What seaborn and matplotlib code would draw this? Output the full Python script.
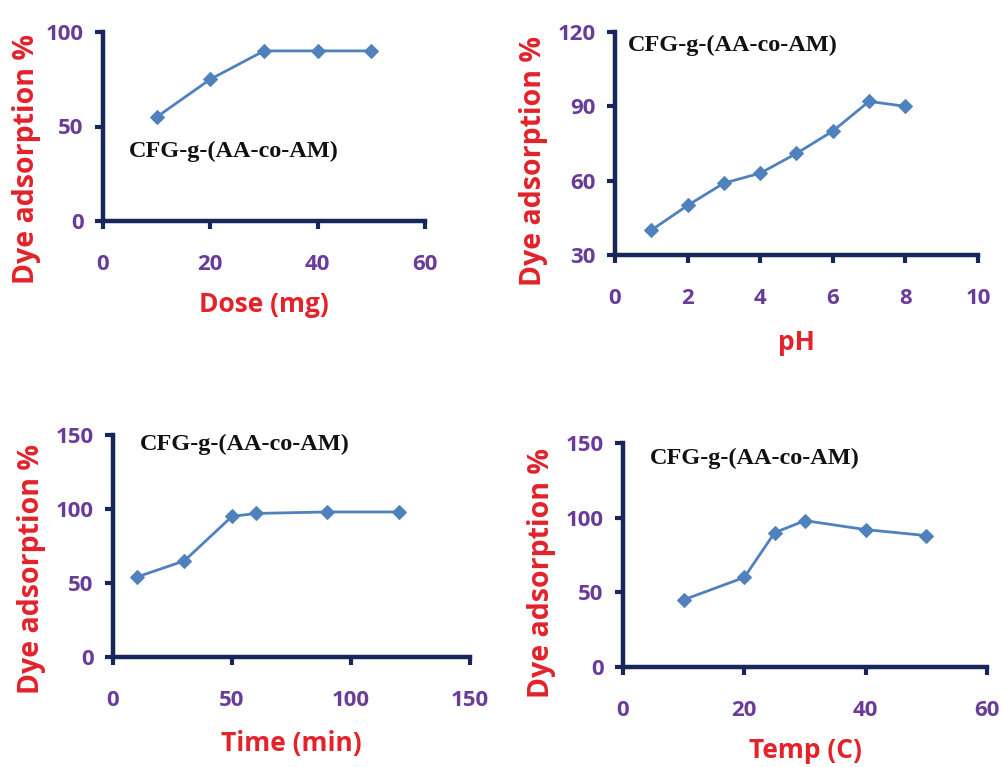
import matplotlib
matplotlib.use("Agg")
import matplotlib.pyplot as plt
import seaborn as sns
import pandas as pd

# ---- data ----
dose_mg = [10, 20, 30, 40, 50]
dose_ads = [55, 75, 90, 90, 90]

ph_vals = [1, 2, 3, 4, 5, 6, 7, 8]
ph_ads = [40, 50, 59, 63, 71, 80, 92, 90]

time_min = [10, 30, 50, 60, 90, 120]
time_ads = [54, 65, 95, 97, 98, 98]

temp_c = [10, 20, 25, 30, 40, 50]
temp_ads = [45, 60, 90, 98, 92, 88]

ylabel = "Dye adsorption %"
annot = "CFG-g-(AA-co-AM)"

sns.set_style("white")
plt.rcParams['font.family'] = ['Open Sans', 'DejaVu Sans']

W, H = 1003, 767
fig = plt.figure(figsize=(W / 100, H / 100), dpi=100)

SPINE = "#17275a"
TICKC = "#6a3c9a"
LABC = "#e3222a"
LINEC = "#4f81bd"

def px_axes(l, r, t, b):
    return fig.add_axes([l / W, 1 - b / H, (r - l) / W, (b - t) / H])

panels = [
    dict(box=(103, 425, 32, 221), x=dose_mg, y=dose_ads, xlim=(0, 60), xt=[0, 20, 40, 60],
         ylim=(0, 100), yt=[0, 50, 100], xlabel="Dose (mg)", xlab_y=305, ylab=(27, 159),
         ann=(129, 151)),
    dict(box=(615, 978, 32, 255), x=ph_vals, y=ph_ads, xlim=(0, 10), xt=[0, 2, 4, 6, 8, 10],
         ylim=(30, 120), yt=[30, 60, 90, 120], xlabel="pH", xlab_y=343, ylab=(534, 161),
         ann=(628, 45)),
    dict(box=(113, 470, 435, 657), x=time_min, y=time_ads, xlim=(0, 150), xt=[0, 50, 100, 150],
         ylim=(0, 150), yt=[0, 50, 100, 150], xlabel="Time (min)", xlab_y=743, ylab=(32, 569),
         ann=(140, 444)),
    dict(box=(623, 987, 443, 667), x=temp_c, y=temp_ads, xlim=(0, 60), xt=[0, 20, 40, 60],
         ylim=(0, 150), yt=[0, 50, 100, 150], xlabel="Temp (C)", xlab_y=750, ylab=(542, 573),
         ann=(650, 458)),
]

for p in panels:
    l, r, t, b = p["box"]
    ax = px_axes(l, r, t, b)
    df = pd.DataFrame({"x": p["x"], "y": p["y"]})
    sns.lineplot(data=df, x="x", y="y", ax=ax, color=LINEC, lw=2,
                 marker="D", markersize=7, markeredgecolor=LINEC, markerfacecolor=LINEC)
    ax.set_xlim(*p["xlim"])
    ax.set_ylim(*p["ylim"])
    ax.set_xticks(p["xt"])
    ax.set_yticks(p["yt"])
    ax.set_xlabel("")
    ax.set_ylabel("")
    for s in ["top", "right"]:
        ax.spines[s].set_visible(False)
    for s in ["left", "bottom"]:
        ax.spines[s].set_color(SPINE)
        ax.spines[s].set_linewidth(3.2)
    ax.tick_params(axis="both", direction="out", length=6, width=3, color=SPINE,
                   labelcolor=TICKC, labelsize=16, bottom=True, left=True)
    ax.tick_params(axis="x", pad=18)
    ax.tick_params(axis="y", pad=8)
    for lab in ax.get_xticklabels() + ax.get_yticklabels():
        lab.set_fontweight("bold")
    ax.patch.set_alpha(0)
    for line in ax.lines:
        line.set_clip_on(False)
    # axis labels
    fig.text((l + r) / 2 / W, 1 - p["xlab_y"] / H, p["xlabel"], color=LABC, fontsize=19,
             fontweight="bold", ha="center", va="center")
    yx, yy = p["ylab"]
    fig.text(yx / W, 1 - yy / H, ylabel, color=LABC, fontsize=20.5,
             fontweight="bold", ha="center", va="center", rotation=90)
    ax_, ay_ = p["ann"]
    fig.text(ax_ / W, 1 - ay_ / H, annot, color="#111111", fontsize=17.5, fontweight="bold",
             family=["Liberation Serif", "DejaVu Serif"], ha="left", va="center")

fig.savefig("out.png", dpi=100, facecolor="white")
